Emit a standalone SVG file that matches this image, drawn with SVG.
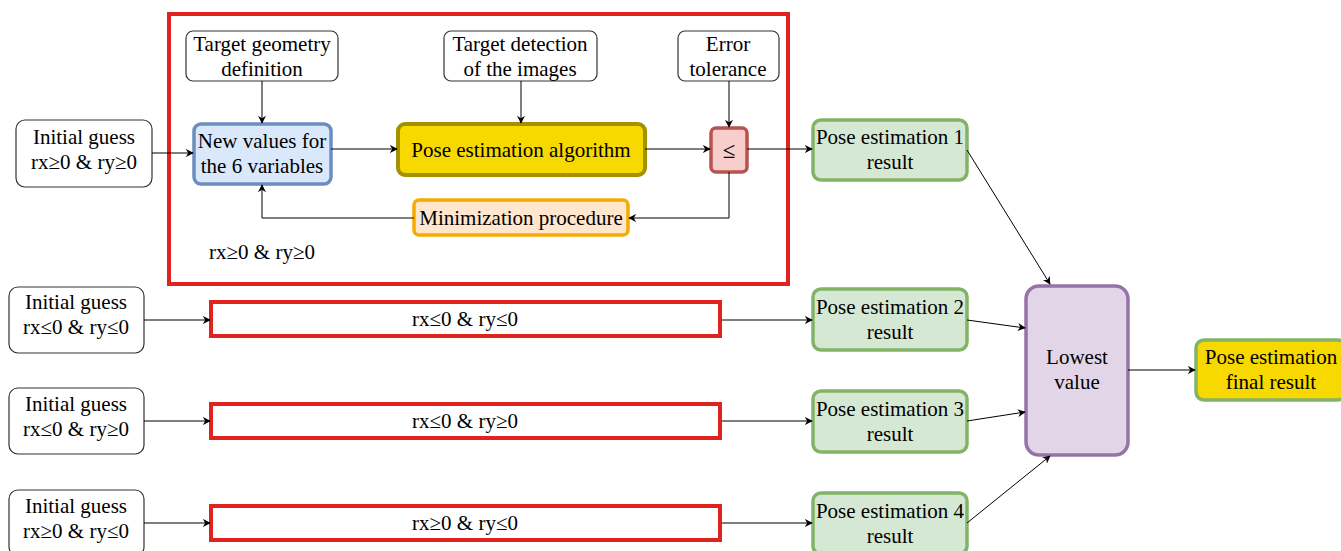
<svg xmlns="http://www.w3.org/2000/svg" width="1341" height="551" viewBox="0 0 1341 551">
<style>
.plain{fill:#fff;stroke:#333;stroke-width:1.2}
.green{fill:#d5e8d4;stroke:#82b366;stroke-width:3.5}
.red{fill:none;stroke:#e0231f;stroke-width:4}
.bar{fill:#fff;stroke:#e0231f;stroke-width:4}
.conn{fill:none;stroke:#000;stroke-width:1;marker-end:url(#ah)}
</style>
<defs>
<marker id="ah" viewBox="0 0 10 10" refX="9" refY="5" markerWidth="8" markerHeight="8" markerUnits="userSpaceOnUse" orient="auto">
<path d="M0,0 L10,5 L0,10 L3,5 Z" fill="#000"/>
</marker>
</defs>
<rect width="1341" height="551" fill="#fff"/>
<g font-family="Liberation Serif, Times New Roman, Tinos, DejaVu Serif, serif" font-size="21" text-anchor="middle" fill="#000">
<g id="frame1"><rect class="red" x="169" y="14" width="619" height="270"/><text x="262" y="259">rx≥0 &amp; ry≥0</text></g>
<g id="tgeo"><rect class="plain" x="186" y="31" width="152" height="50" rx="7"/><text x="262" y="51">Target geometry</text><text x="262" y="76">definition</text></g>
<g id="tdet"><rect class="plain" x="444" y="31" width="153" height="50" rx="7"/><text x="520" y="51">Target detection</text><text x="520" y="76">of the images</text></g>
<g id="etol"><rect class="plain" x="678" y="31" width="101" height="50" rx="7"/><text x="728" y="51">Error</text><text x="728" y="76">tolerance</text></g>
<g id="ig1"><rect class="plain" x="16" y="120" width="136" height="67" rx="9"/><text x="84" y="144">Initial guess</text><text x="84" y="169">rx≥0 &amp; ry≥0</text></g>
<g id="newvals"><rect x="194" y="124" width="137" height="60" rx="7" fill="#dae8fc" stroke="#6c8ebf" stroke-width="3.5"/><text x="262" y="148">New values for</text><text x="262" y="173">the 6 variables</text></g>
<g id="posealg"><rect x="398" y="124" width="247" height="51" rx="7" fill="#f7d900" stroke="#a39100" stroke-width="4"/><text x="521" y="157">Pose estimation algorithm</text></g>
<g id="leq"><rect x="711" y="128" width="36" height="44" rx="5" fill="#f8cecc" stroke="#b85450" stroke-width="3.5"/><text x="729" y="158" font-size="23">≤</text></g>
<g id="minproc"><rect x="414" y="200" width="214" height="35" rx="5" fill="#ffe6cc" stroke="#f5ab00" stroke-width="3.5"/><text x="521" y="225">Minimization procedure</text></g>
<g id="ig2"><rect class="plain" x="9" y="287" width="135" height="66" rx="9"/><text x="76" y="309">Initial guess</text><text x="76" y="334">rx≤0 &amp; ry≤0</text></g>
<g id="ig3"><rect class="plain" x="9" y="388" width="135" height="66" rx="9"/><text x="76" y="411">Initial guess</text><text x="76" y="436">rx≤0 &amp; ry≥0</text></g>
<g id="ig4"><rect class="plain" x="9" y="490" width="135" height="66" rx="9"/><text x="76" y="513">Initial guess</text><text x="76" y="538">rx≥0 &amp; ry≤0</text></g>
<g id="bar2"><rect class="bar" x="211" y="302" width="509" height="34"/><text x="465" y="326">rx≤0 &amp; ry≤0</text></g>
<g id="bar3"><rect class="bar" x="211" y="404" width="509" height="34"/><text x="465" y="428">rx≤0 &amp; ry≥0</text></g>
<g id="bar4"><rect class="bar" x="211" y="506" width="509" height="34"/><text x="465" y="530">rx≥0 &amp; ry≤0</text></g>
<g id="pe1"><rect class="green" x="813" y="120" width="154" height="60" rx="8"/><text x="890" y="144">Pose estimation 1</text><text x="890" y="169">result</text></g>
<g id="pe2"><rect class="green" x="813" y="289" width="154" height="61" rx="8"/><text x="890" y="314">Pose estimation 2</text><text x="890" y="339">result</text></g>
<g id="pe3"><rect class="green" x="813" y="391" width="154" height="61" rx="8"/><text x="890" y="416">Pose estimation 3</text><text x="890" y="441">result</text></g>
<g id="pe4"><rect class="green" x="813" y="493" width="154" height="61" rx="8"/><text x="890" y="518">Pose estimation 4</text><text x="890" y="543">result</text></g>
<g id="lowest"><rect x="1026" y="286" width="102" height="169" rx="13" fill="#e1d5e7" stroke="#9673a6" stroke-width="3.5"/><text x="1077" y="364">Lowest</text><text x="1077" y="389">value</text></g>
<g id="final"><rect x="1196" y="340" width="150" height="60" rx="8" fill="#f7d900" stroke="#82b366" stroke-width="3.5"/><text x="1271" y="364">Pose estimation</text><text x="1271" y="389">final result</text></g>
</g>
<g id="connectors">
<path class="conn" d="M152,153 L193,153"/>
<path class="conn" d="M262,81 L262,123"/>
<path class="conn" d="M521,81 L521,123"/>
<path class="conn" d="M729,81 L729,127"/>
<path class="conn" d="M331,149 L397,149"/>
<path class="conn" d="M645,149 L710,149"/>
<path class="conn" d="M747,149 L812,149"/>
<path class="conn" d="M729,172 L729,218 L629,218"/>
<path class="conn" d="M414,218 L262,218 L262,185"/>
<path class="conn" d="M144,320 L210,320"/>
<path class="conn" d="M144,421 L210,421"/>
<path class="conn" d="M144,523 L210,523"/>
<path class="conn" d="M722,320 L812,320"/>
<path class="conn" d="M722,421 L812,421"/>
<path class="conn" d="M722,523 L812,523"/>
<path class="conn" d="M967,150 L1050,284"/>
<path class="conn" d="M967,320 L1025,328"/>
<path class="conn" d="M967,421 L1025,412"/>
<path class="conn" d="M967,523 L1050,456"/>
<path class="conn" d="M1128,370 L1195,370"/>
</g>
</svg>
